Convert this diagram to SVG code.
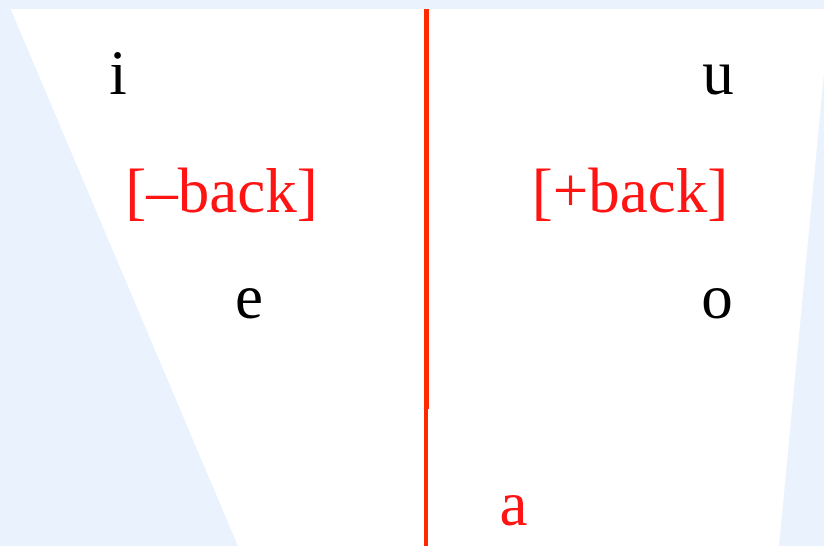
<svg xmlns="http://www.w3.org/2000/svg" width="824" height="546" viewBox="0 0 824 546">
<style>
.t{font-family:"Liberation Serif","Times New Roman",serif;font-size:63px;text-anchor:middle}
.k{fill:#000}
.r{fill:#ff1414}
.ln{stroke:#ff2a00;fill:none}
</style>
<rect x="0" y="0" width="824" height="546" fill="#eaf3fd"/>
<polygon points="10.7,9 830,9 779,546 238,546" fill="#ffffff"/>
<g id="connectors">
<line class="ln" x1="426.5" y1="9" x2="426.5" y2="409" stroke-width="5"/>
<line class="ln" x1="426" y1="409" x2="426" y2="546" stroke-width="4"/>
</g>
<g id="node-i"><text class="t k" x="118" y="94">i</text></g>
<g id="node-u"><text class="t k" x="718" y="94">u</text></g>
<g id="node-minusback"><text class="t r" x="221.5" y="212">[–back]</text></g>
<g id="node-plusback"><text class="t r" x="630" y="212">[+back]</text></g>
<g id="node-e"><text class="t k" x="249" y="318">e</text></g>
<g id="node-o"><text class="t k" x="717" y="318">o</text></g>
<g id="node-a"><text class="t r" x="513.5" y="525">a</text></g>
</svg>
